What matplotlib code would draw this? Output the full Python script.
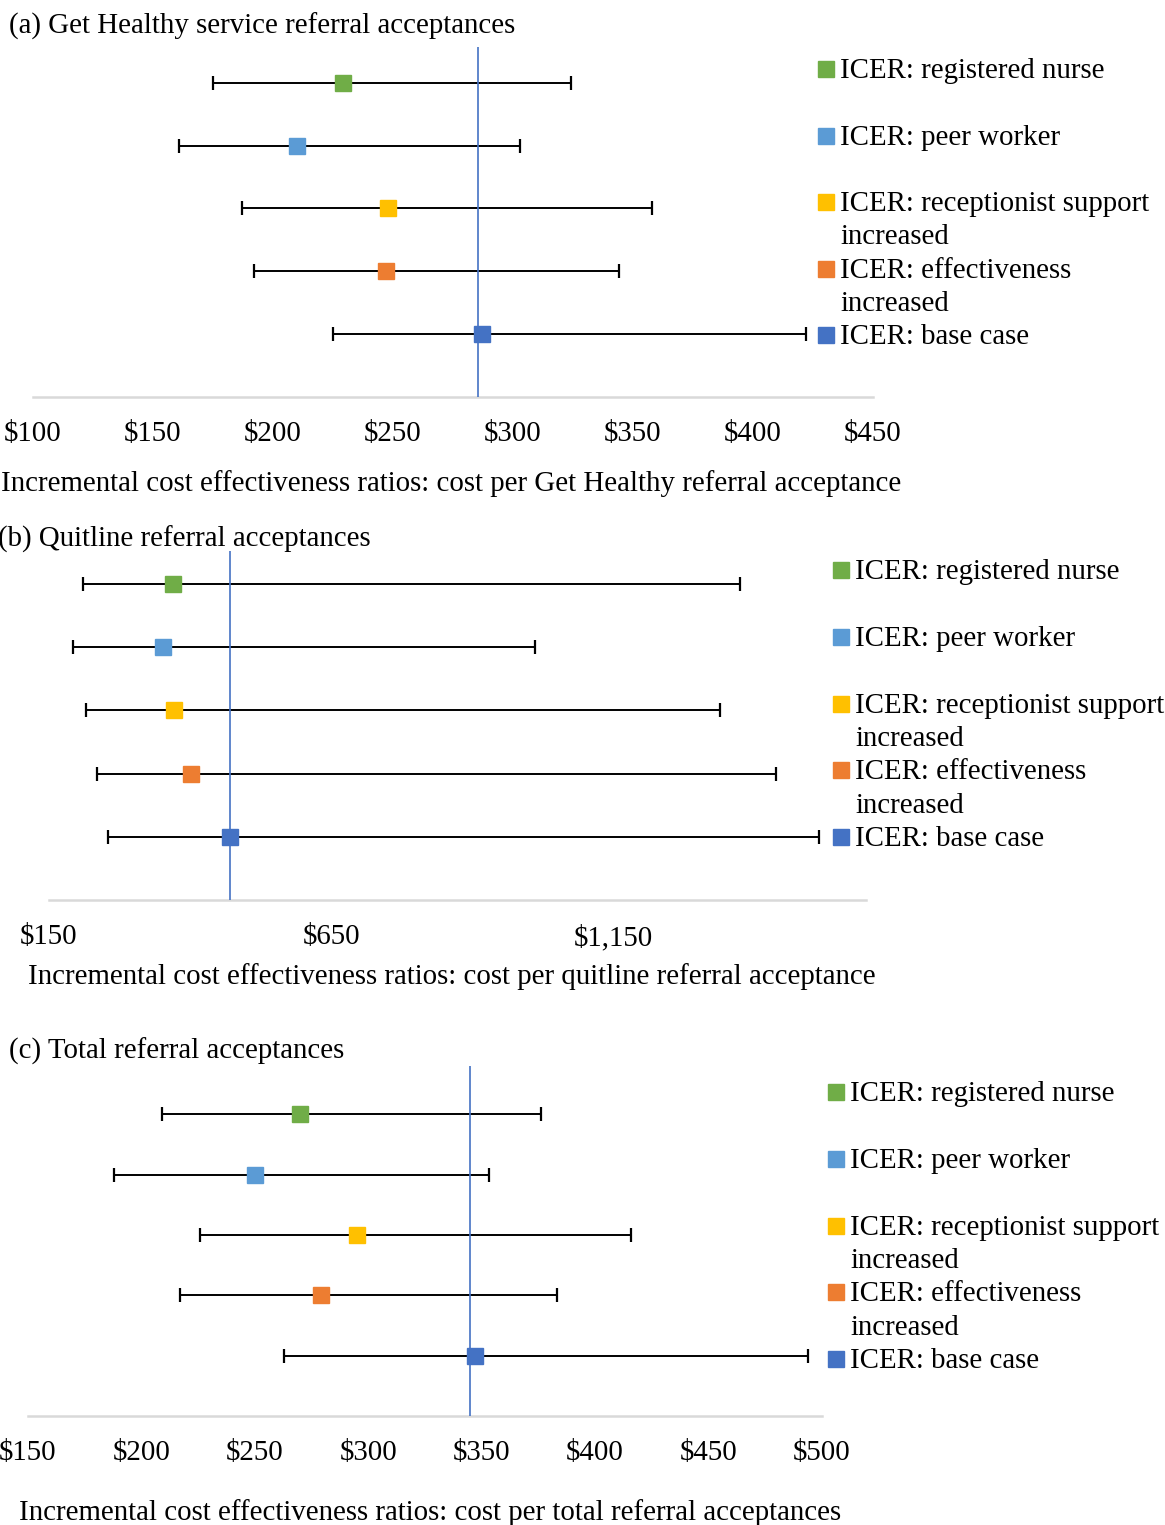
import matplotlib
matplotlib.use("Agg")
import matplotlib.pyplot as plt
import numpy as np
from matplotlib.lines import Line2D

plt.rcParams['font.family'] = ['Liberation Serif', 'DejaVu Serif']

W, H = 1165, 1525
FS = 20.8

scenarios = ["ICER: registered nurse", "ICER: peer worker",
             "ICER: receptionist support\nincreased", "ICER: effectiveness\nincreased",
             "ICER: base case"]
colors = ["#70AD47", "#5B9BD5", "#FFC000", "#ED7D31", "#4472C4"]
ypos = [5, 4, 3, 2, 1]

# Panel (a): Get Healthy referral acceptances
a_icer = [229, 210, 248, 247, 287]
a_low = [175, 161, 187, 192, 225]
a_high = [324, 303, 358, 344, 422]
a_ref = 285.5
a_ticks = [100, 150, 200, 250, 300, 350, 400, 450]

# Panel (b): Quitline referral acceptances
b_icer = [370, 352, 372, 402, 471]
b_low = [210, 192, 216, 235, 255]
b_high = [1375, 1012, 1340, 1439, 1515]
b_ref = 471
b_ticks = [150, 650, 1150]

# Panel (c): Total referral acceptances
c_icer = [270, 250, 295, 279, 347]
c_low = [209, 188, 226, 217, 263]
c_high = [376, 353, 416, 383, 494]
c_ref = 345
c_ticks = [150, 200, 250, 300, 350, 400, 450, 500]

fig = plt.figure(figsize=(W / 100, H / 100), dpi=100)


def px_axes(l, r, t, b):
    return fig.add_axes([l / W, 1 - b / H, (r - l) / W, (b - t) / H])


def fmt(v):
    return "${:,}".format(v)


def panel(box, icer, low, high, ref, ticks, xlim, ylim_top, title, title_xy,
          xlabel, xlabel_xy, leg_sq_x, leg_text_x, leg_y0, leg_step):
    ax = px_axes(*box)
    icer = np.array(icer); low = np.array(low); high = np.array(high)
    for i in range(len(icer)):
        ax.errorbar(icer[i], ypos[i], xerr=[[icer[i] - low[i]], [high[i] - icer[i]]],
                    fmt='none', ecolor='black', elinewidth=1.4, capsize=5, capthick=1.6, zorder=2)
    ax.axvline(ref, color='#4472C4', lw=1.2, zorder=3)
    for i in range(len(icer)):
        ax.plot(icer[i], ypos[i], marker='s', ms=11.5, color=colors[i], mec=colors[i], ls='none', zorder=4)
    ax.set_xlim(*xlim)
    ax.set_ylim(0, ylim_top)
    ax.set_xticks(ticks)
    ax.set_xticklabels([fmt(t) for t in ticks], fontsize=FS)
    ax.tick_params(axis='x', length=0, pad=17.5)
    ax.set_yticks([])
    for s in ['top', 'right', 'left']:
        ax.spines[s].set_visible(False)
    ax.spines['bottom'].set_color('#D9D9D9')
    ax.spines['bottom'].set_linewidth(1.8)
    ax.patch.set_alpha(0)
    fig.text(title_xy[0] / W, 1 - (title_xy[1] + 2.5) / H, title, fontsize=FS, ha='left', va='center')
    fig.text(xlabel_xy[0] / W, 1 - (xlabel_xy[1] + 2.5) / H, xlabel, fontsize=FS, ha='center', va='center')
    line_idx = [0, 2, 4, 6, 8]
    for i, lab in enumerate(scenarios):
        y = leg_y0 + line_idx[i] * leg_step
        fig.add_artist(Line2D([leg_sq_x / W], [1 - y / H], marker='s', ms=11,
                              color=colors[i], ls='none', transform=fig.transFigure))
        for k, part in enumerate(lab.split("\n")):
            yb = y + k * leg_step + 9
            fig.text(leg_text_x / W, 1 - yb / H, part, fontsize=FS, ha='left', va='baseline')
    return ax


panel((33, 873, 47, 397), a_icer, a_low, a_high, a_ref, a_ticks, (100, 450), 5.57,
      "(a) Get Healthy service referral acceptances", (9, 24),
      "Incremental cost effectiveness ratios: cost per Get Healthy referral acceptance", (451, 481),
      826, 840, 69, 33.3)

panel((49, 866, 551, 900), b_icer, b_low, b_high, b_ref, b_ticks, (150, 1598), 5.52,
      "(b) Quitline referral acceptances", (-2, 537),
      "Incremental cost effectiveness ratios: cost per quitline referral acceptance", (452, 974),
      841, 855, 570, 33.4)

panel((28, 822, 1066, 1416), c_icer, c_low, c_high, c_ref, c_ticks, (150, 500), 5.8,
      "(c) Total referral acceptances", (9, 1049),
      "Incremental cost effectiveness ratios: cost per total referral acceptances", (430, 1510),
      836, 850, 1092, 33.4)

fig.savefig("out.png", dpi=100)
